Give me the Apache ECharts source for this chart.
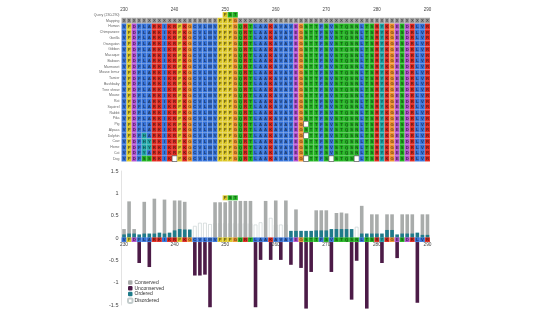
<!DOCTYPE html>
<html><head><meta charset="utf-8">
<script src="https://cdn.jsdelivr.net/npm/echarts@6/dist/echarts.min.js"></script>
<style>html,body{margin:0;padding:0;background:#fff}#c{width:550px;height:310px}</style>
</head><body><div id="c"></div>
<script>
// ---------- DATA ----------
const positions = ['230','231','232','233','234','235','236','237','238','239','240','241','242','243','244','245','246','247','248','249','250','251','252','253','254','255','256','257','258','259','260','261','262','263','264','265','266','267','268','269','270','271','272','273','274','275','276','277','278','279','280','281','282','283','284','285','286','287','288','289','290'];
const tickLabels = ['230','240','250','260','270','280','290'];

const headerLabels = ['Query (230-290)', 'Mapping'];
const speciesLabels = ['Human','Chimpanzee','Gorilla','Orangutan','Gibbon','Macaque','Baboon','Marmoset','Mouse lemur','Tarsier','Bushbaby','Tree shrew','Mouse','Rat','Squirrel','Rabbit','Pika','Pig','Alpaca','Dolphin','Cow','Horse','Cat','Dog'];

const insertionPos = ['250','251','252'];
const insertionRes = ['P','S','T'];
const insertionLevel = 0.9;

const mappingRow = 'XXXXXXXXXXXXXXXXXXXPPPGXXXXXXXXXXXXXXXXXXXXXXXXXXXXXXXXXXXXXX';
const consensus  = 'VPDFLARKIKRPKGCVLMVPPPGQRTLAAKAVAVEGSTTFSVSTQSNLTSRYKGESDRLVR';
const sequences = [
  'VPDFLARKIKRPKGCVLMVPPPGQRTLAAKAVAVEGSTTFSVSTQSNLTSRYKGESDRLVR',
  'VPDFLARKIKRPKGCVLMVPPPGQRTLAAKAVAVEGSTTFSVSTQSNLTSRYKGESDRLVR',
  'VPDFLARKIKRPKGCVLMVPPPGQRTLAAKAVAVEGSTTFSVSTQSNLTSRYKGESDRLVR',
  'VPDFLARKIKRPKGCVLMVPPPGQRTLAAKAVAVEGSTTFSVSTQSNLTSRYKGESDRLVR',
  'VPDFLARKIKRPKGCVLMVPPPGQRTLAAKAVAVEGSTTFSVSTQSNLTSRYKGESDRLVR',
  'VPDFLARKIKRPKGCVLMVPPPGQRTLAAKAVAVEGSTTFSVSTQSNLTSRYKGESDRLVR',
  'VPDFLARKIKRPKGCVLMVPPPGQRTLAAKAVAVEGSTTFSVSTQSNLTSRYKGESDRLVR',
  'VPDFLARKIKRPKGCVLMVPPPGQRTLAAKAVAVEGSTTFSVSTQSNLTSRYKGESDRLVR',
  'VPDFLARKIKRPKGCVLMVPPPGQRTLAAKAVAVEGSTTFSVSTQSNLTSRYKGESDRLVR',
  'VPDFLARKIKRPKGCVLMVPPPGQRTLAAKAVAVEGSTTFSVSTQSNLTSRYKGESDRLVR',
  'VPDFLARKIKRPKGCVLMVPPPGQRTLAAKAVAVEGSTTFSVSTQSNLTSRYKGESDRLVR',
  'VPDFLARKIKRPKGCVLMVPPPGQRTLAAKAVAVEGSTTFSVSTQSNLTSRYKGESDRLVR',
  'VPDFLARKIKRPKGCVLMVPPPGQRTLAAKAVAVEGSTTFSVSTQSNLTSRYKGESDRLVR',
  'VPDFLARKIKRPKGCVLMVPPPGQRTLAAKAVAVEGSTTFSVSTQSNLTSRYKGESDRLVR',
  'VPDFLARKIKRPKGCVLMVPPPGQRTLAAKAVAVEGSTTFSVSTQSNLTSRYKGESDRLVR',
  'VPDFLARKIKRPKGCVLMVPPPGQRTLAAKAVAVEGSTTFSVSTQSNLTSRYKGESDRLVR',
  'VPDFLARKIKRPKGCVLMVPPPGQRTLAAKAVAVEGSTTFSVSTQSNLTSRYKGESDRLVR',
  'VPDFLARKIKRPKGCVLMVPPPGQRTLAAKAVAVEG-TTFSVSTQSNLTSRYKGESDRLVR',
  'VPDFLARKIKRPKGCVLMVPPPGQRTLAAKAVAVEGSTTFSVSTQSNLTSRYKGESDRLVR',
  'VPDFHARKIKRPKGCVLMVPPPGQRTLAAKAVAVEG-TTFSVSTQSNLTSRYKGESDRLVR',
  'VPDFHYRKIKRPKGCVLMVPPPGQRTLAAKAVAVEGSTTFSVSTQSNLTSRYKGESDRLVR',
  'VPDFHYRKIKRPKGCVLMVPPPGQRTLAAKAVAVEGSTTFSVSTQSNLTSRYKGESDRLVR',
  'VPDFYARKIKRPKGCVLMVPPPGQRTLAAKAVAVEGSTTFSVSTQSNLTSRYKGESDRLVR',
  'VPDFSSRKIK-PKGCVLMVPPPGQRTLAAKAVAVEG-TTFS-STQS-LTSRYKGESDRLVR'
];

const conserved = [0.2,0.82,0.2,null,0.81,null,0.88,null,0.86,null,0.84,0.84,0.81,null,null,null,null,null,0.8,0.8,0.8,0.83,0.83,0.83,0.83,0.83,null,null,0.83,null,0.84,null,0.84,null,0.64,null,null,null,0.62,0.62,0.62,null,0.56,0.57,0.55,null,null,0.72,null,0.53,0.53,null,0.53,0.53,null,0.53,0.53,0.53,null,0.53,0.53];
const ordered = [0.08,0.1,0.1,0.08,0.1,0.1,0.1,0.12,0.1,0.12,0.17,0.2,0.19,0.19,null,null,null,null,null,null,null,null,null,null,null,null,null,null,null,null,null,null,null,0.16,0.16,0.16,0.16,0.16,0.17,0.17,0.17,0.2,0.2,0.2,0.2,0.2,null,0.1,0.1,0.1,0.1,0.1,0.18,0.18,0.08,0.1,0.1,0.1,0.12,0.07,0.07];
const disordered = [null,null,null,null,null,null,null,null,null,null,null,null,null,null,0.27,0.34,0.34,0.31,0.33,0.33,0.33,0.33,0.33,0.33,0.33,0.33,0.3,0.35,null,0.45,0.3,0.3,0.3,null,null,null,null,null,null,null,null,null,null,null,null,null,0.25,null,null,null,null,null,null,null,null,null,null,null,null,null,null];
const unconserved = [null,null,null,-0.56,null,-0.65,null,null,null,null,null,null,null,null,-0.84,-0.84,-0.82,-1.55,null,null,null,null,null,null,null,null,-1.55,-0.49,null,-0.49,null,-0.49,null,-0.6,null,-0.67,-1.58,-0.76,null,null,null,-0.76,null,null,null,-1.38,-0.51,null,-1.58,null,null,-0.56,null,null,-0.45,null,null,null,-1.45,null,null];

// ---------- STYLE ----------
const FONT = 'Liberation Sans';
const resColor = {
  A:'#3572d9',I:'#3572d9',L:'#3572d9',M:'#3572d9',F:'#3572d9',W:'#3572d9',V:'#3572d9',C:'#3572d9',
  K:'#e0281e',R:'#e0281e', D:'#b24ccf',E:'#b24ccf',
  N:'#21b321',Q:'#21b321',S:'#21b321',T:'#21b321',
  G:'#ee912c', P:'#dcc726', H:'#1ea6a8',Y:'#1ea6a8', X:'#9d9d9d'
};

const rowLabels = headerLabels.concat(speciesLabels);

const alignData = [];
insertionPos.forEach((p, k) => alignData.push([positions.indexOf(p), 0, insertionRes[k]]));
for (let i = 0; i < mappingRow.length; i++) alignData.push([i, 1, mappingRow[i]]);
sequences.forEach((s, r) => { for (let i = 0; i < s.length; i++) alignData.push([i, r + 2, s[i]]); });

const stripData = [];
for (let i = 0; i < consensus.length; i++) stripData.push([i, 0, consensus[i]]);
const insBarData = insertionPos.map((p, k) => [positions.indexOf(p), insertionLevel, insertionRes[k]]);
const tickData = tickLabels.map(t => [positions.indexOf(t), 0, t]);

function cell(c, w, h, ch) {
  const gap = ch === '-';
  return { type: 'group', children: [
    { type: 'rect', shape: { x: c[0] - w / 2, y: c[1] - h / 2, width: w, height: h },
      style: { fill: gap ? '#fff' : (resColor[ch] || '#999'), stroke: gap ? '#333' : 'rgba(255,255,255,0.35)', lineWidth: gap ? 0.6 : 0.3 } },
    { type: 'text', style: { text: gap ? '' : ch, x: c[0], y: c[1] + 0.3, align: 'center', verticalAlign: 'middle',
      font: 'bold 4.2px "' + FONT + '"', fill: 'rgba(20,20,20,0.65)' } }
  ]};
}

const chart = echarts.init(document.getElementById('c'), null, { renderer: 'canvas' });
chart.setOption({
  animation: false,
  backgroundColor: '#fff',
  textStyle: { fontFamily: FONT },
  grid: [
    { left: 121.5, width: 308.5, top: 12, height: 149.5 },
    { left: 121.5, width: 308.5, top: 171, height: 134 }
  ],
  xAxis: [
    { type: 'category', gridIndex: 0, data: positions, position: 'top', boundaryGap: true,
      axisLine: { show: false }, axisTick: { show: false }, splitLine: { show: false },
      axisLabel: { interval: 0, formatter: v => tickLabels.includes(v) ? v : '', fontSize: 4.5, color: '#444', margin: 0 } },
    { type: 'category', gridIndex: 1, data: positions, boundaryGap: true,
      axisLine: { show: false }, axisTick: { show: false }, axisLabel: { show: false } }
  ],
  yAxis: [
    { type: 'category', gridIndex: 0, data: rowLabels, inverse: true,
      axisLine: { show: false }, axisTick: { show: false },
      axisLabel: { interval: 0, fontSize: 3.5, color: '#666', margin: 2 } },
    { type: 'value', gridIndex: 1, min: -1.5, max: 1.5, interval: 0.5,
      axisLine: { show: true, lineStyle: { color: '#d0d0d0', width: 0.6 } }, axisTick: { show: false }, splitLine: { show: false },
      axisLabel: { fontSize: 5.5, color: '#444', margin: 3 } }
  ],
  legend: {
    orient: 'vertical', left: 124, top: 279, itemWidth: 4.5, itemHeight: 4.5, itemGap: 0.8,
    padding: [1, 3], backgroundColor: '#fff',
    textStyle: { fontSize: 5, color: '#333', padding: [0, 0, 0, -3] },
    data: ['Conserved', 'Unconserved', 'Ordered', 'Disordered']
  },
  series: [
    { type: 'custom', xAxisIndex: 0, yAxisIndex: 0, data: alignData, encode: { x: 0, y: 1 },
      renderItem: (params, api) => { const c = api.coord([api.value(0), api.value(1)]); const s = api.size([1, 1]);
        return cell(c, s[0], s[1], alignData[params.dataIndex][2]); } },
    { name: 'Disordered', type: 'bar', xAxisIndex: 1, yAxisIndex: 1, data: disordered, barWidth: 3.6, barGap: '-100%',
      itemStyle: { color: '#ffffff', borderColor: '#c3cccc', borderWidth: 0.6 } },
    { name: 'Conserved', type: 'bar', xAxisIndex: 1, yAxisIndex: 1, data: conserved, barWidth: 3.6, barGap: '-100%',
      itemStyle: { color: '#a9acab' } },
    { name: 'Ordered', type: 'bar', xAxisIndex: 1, yAxisIndex: 1, data: ordered, barWidth: 3.6, barGap: '-100%',
      itemStyle: { color: '#1f7b8a' } },
    { name: 'Unconserved', type: 'bar', xAxisIndex: 1, yAxisIndex: 1, data: unconserved, barWidth: 3.6, barGap: '-100%', clip: false,
      itemStyle: { color: '#4c1b47' } },
    { type: 'custom', xAxisIndex: 1, yAxisIndex: 1, data: stripData, encode: { x: 0, y: 1 }, clip: false, z: 5,
      renderItem: (params, api) => { const c = api.coord([api.value(0), api.value(1)]); const s = api.size([1, 0]);
        return cell([c[0], c[1] + 1.7], s[0], 4.6, stripData[params.dataIndex][2]); } },
    { type: 'custom', xAxisIndex: 1, yAxisIndex: 1, data: tickData, encode: { x: 0, y: 1 }, clip: false, z: 6, silent: true,
      renderItem: (params, api) => { const c = api.coord([api.value(0), api.value(1)]);
        return { type: 'text', style: { text: tickData[params.dataIndex][2], x: c[0], y: c[1] + 6.8, align: 'center', verticalAlign: 'middle',
          font: '4.8px "' + FONT + '"', fill: '#444' } }; } },
    { type: 'custom', xAxisIndex: 1, yAxisIndex: 1, data: insBarData, encode: { x: 0, y: 1 }, z: 5,
      renderItem: (params, api) => { const c = api.coord([api.value(0), api.value(1)]); const s = api.size([1, 0]);
        return cell(c, s[0], 5, insBarData[params.dataIndex][2]); } }
  ]
});
</script></body></html>
